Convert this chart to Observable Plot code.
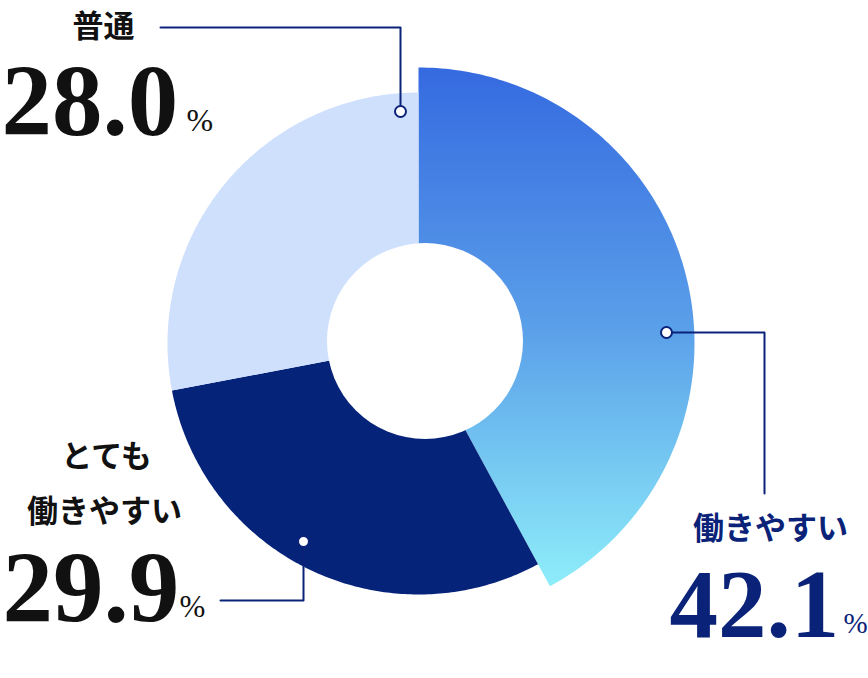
<!DOCTYPE html>
<html><head><meta charset="utf-8">
<script src="https://cdn.jsdelivr.net/npm/d3@7"></script>
<script src="https://cdn.jsdelivr.net/npm/@observablehq/plot@0.6"></script>
<style>html,body{margin:0;padding:0;background:#fff} #chart svg{display:block}</style>
</head><body><div id="chart"></div>
<script>
// ---- data ----
const categories = ["働きやすい", "とても働きやすい", "普通"];
const values = [42.1, 29.9, 28.0];
const labelLines = [["働きやすい"], ["とても", "働きやすい"], ["普通"]];
const valueLabels = ["42.1", "29.9", "28.0"];

// ---- layout / style ----
const W = 868, H = 678;
const cx = 418, cy = 343;
const outerR = [276, 251, 251];
const hole = {x: 424.5, y: 340.5, r: 98};
const fills = ["url(#gradMain)", "#06237a", "#cfe0fd"];
const navy = "#0a2379";
const labelColor = [navy, "#111111", "#111111"];
const labelPos = [
  [{x: 770, y: 529}],
  [{x: 106, y: 457}, {x: 104, y: 512}],
  [{x: 103, y: 27}]
];
const valuePos = [{x: 669, y: 636}, {x: 2, y: 621}, {x: 1, y: 134}];
const valueSize = [97, 101, 101];
const valueSpacing = [-1, -3.5, -2];
const pctPos = [{x: 843, y: 632}, {x: 179, y: 616}, {x: 186, y: 130}];
const pctSize = [29, 31, 32];
const leaders = [
  [{x: 666, y: 332}, {x: 764, y: 332}, {x: 764, y: 493}],
  [{x: 303, y: 541}, {x: 303, y: 600}, {x: 220, y: 600}],
  [{x: 400, y: 111}, {x: 400, y: 27}, {x: 160, y: 27}]
];

// ---- slices from data ----
const arcs = d3.pie().sort(null).value(d => d.value)(
  categories.map((c, i) => ({category: c, value: values[i], i}))
);
const slices = arcs.map(a => {
  const R = outerR[a.data.i];
  const pts = [{x: cx, y: cy}];
  const n = 160;
  for (let k = 0; k <= n; k++) {
    const t = a.startAngle + (a.endAngle - a.startAngle) * k / n;
    pts.push({x: cx + R * Math.sin(t), y: cy - R * Math.cos(t)});
  }
  return {i: a.data.i, pts};
});

const defs = () => {
  const d = d3.create("svg:defs");
  const g = d.append("linearGradient").attr("id", "gradMain")
    .attr("x1", 0).attr("y1", 0).attr("x2", 0).attr("y2", 1);
  g.append("stop").attr("offset", "0%").attr("stop-color", "#356ae0");
  g.append("stop").attr("offset", "50%").attr("stop-color", "#5a9fe9");
  g.append("stop").attr("offset", "100%").attr("stop-color", "#8eedf9");
  return d.node();
};

const catTexts = [];
labelLines.forEach((lines, i) => lines.forEach((t, j) =>
  catTexts.push({text: t, x: labelPos[i][j].x, y: labelPos[i][j].y, fill: labelColor[i]})));
const valTexts = valueLabels.map((t, i) => ({text: t, x: valuePos[i].x, y: valuePos[i].y, fill: labelColor[i], size: valueSize[i]}));
const pctTexts = valueLabels.map((t, i) => ({text: "%", x: pctPos[i].x, y: pctPos[i].y, fill: labelColor[i], size: pctSize[i]}));
const leaderPts = leaders.flatMap((l, i) => l.map(p => ({...p, i})));
const dots = leaders.map((l, i) => ({...l[0], i}));

const plot = Plot.plot({
  width: W, height: H, margin: 0,
  x: {domain: [0, W], range: [0, W], axis: null},
  y: {domain: [0, H], range: [0, H], axis: null},
  marks: [
    defs,
    ...slices.map(s => Plot.line(s.pts, {x: "x", y: "y", curve: "linear-closed", fill: fills[s.i], stroke: "none"})),
    Plot.dot([hole], {x: "x", y: "y", r: hole.r, fill: "white", stroke: "none"}),
    Plot.line(leaderPts, {x: "x", y: "y", z: "i", stroke: navy, strokeWidth: 2}),
    Plot.dot(dots, {x: "x", y: "y", r: 5.5, fill: "white", stroke: navy, strokeWidth: 2}),
    Plot.text(catTexts, {x: "x", y: "y", text: "text", fill: "fill", fontSize: 31, fontWeight: 700,
      fontFamily: "Noto Sans CJK JP", textAnchor: "middle", ariaLabel: "catlabel"}),
    Plot.text(valTexts, {x: "x", y: "y", text: "text", fill: "fill", fontSize: d => d.size, fontWeight: 700,
      fontFamily: "Liberation Serif", textAnchor: "start", lineAnchor: "bottom", ariaLabel: "vallabel"}),
    Plot.text(pctTexts, {x: "x", y: "y", text: "text", fill: "fill", fontSize: d => d.size, fontWeight: 400,
      fontFamily: "Liberation Serif", textAnchor: "start", lineAnchor: "bottom"})
  ]
});
d3.select(plot).selectAll('g[aria-label="catlabel"] text').attr("letter-spacing", "7px");
d3.select(plot).selectAll('g[aria-label="vallabel"] text').attr("letter-spacing", (d, k) => valueSpacing[k] + "px");
document.getElementById("chart").appendChild(plot);
</script>
</body></html>
